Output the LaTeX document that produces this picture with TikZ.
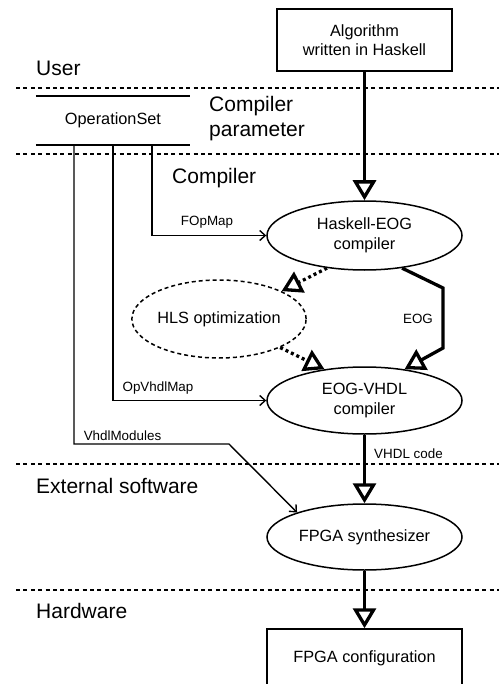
\documentclass[tikz,border=0pt]{standalone}
\usepackage{fontspec}
\setmainfont{Liberation Sans}
\usetikzlibrary{arrows.meta,shapes.geometric}
\newcommand\NodeFont{\fontsize{16.3pt}{19.5pt}\selectfont}
\newcommand\BigFont{\fontsize{21pt}{25pt}\selectfont}
\newcommand\SmallFont{\fontsize{13.4pt}{16pt}\selectfont}
\begin{document}
\begin{tikzpicture}[x=1pt,y=-1pt,
  sepline/.style={line width=1.3pt, dash pattern=on 4pt off 3.4pt},
  boxnode/.style={draw, rectangle, line width=1.5pt, inner sep=0pt, align=center, font=\NodeFont},
  ellnode/.style={draw, ellipse, line width=1.5pt, minimum width=195pt, inner sep=0pt, align=center, font=\NodeFont},
  bigarrow/.style={line width=3.3pt, -{Triangle[open,length=20pt,width=23pt]}},
  dotarrow/.style={bigarrow, dash pattern=on 3pt off 3pt},
  paramarrow/.style={line width=1.4pt, -{Straight Barb[length=5.5pt,width=10pt]}},
  biglabel/.style={anchor=base west, inner sep=0pt, font=\BigFont},
  smalllabel/.style={anchor=base, inner sep=0pt, font=\SmallFont}]
\clip (0,0) rectangle (499,684);
\fill[white] (0,0) rectangle (499,684);

% layer separators
\draw[sepline] (16,88) -- (499,88);
\draw[sepline] (16,154) -- (499,154);
\draw[sepline] (16,464) -- (499,464);
\draw[sepline] (16,590) -- (499,590);

% layer labels
\node[biglabel] (lUser) at (36,76) {User};
\node[biglabel] (lParam1) at (209,112) {Compiler};
\node[biglabel] (lParam2) at (209,137) {parameter};
\node[biglabel] (lComp) at (172,184) {Compiler};
\node[biglabel] (lExt) at (36,493) {External software};
\node[biglabel] (lHw) at (36,618) {Hardware};

% nodes
\node[boxnode, minimum width=175pt, minimum height=62pt] (alg) at (364.5,40) {Algorithm\\written in Haskell};
\node[ellnode, minimum height=69pt] (hask) at (364.5,235.5) {Haskell-EOG\\compiler};
\node[ellnode, draw, dash pattern=on 4pt off 3pt, minimum width=172pt, minimum height=78pt] (hls) at (219,319) {HLS optimization};
\node[ellnode, minimum height=67pt] (vhdl) at (364.5,400.5) {EOG-VHDL\\compiler};
\node[ellnode, minimum height=66pt] (synth) at (364.5,537) {FPGA synthesizer};
\node[boxnode, minimum width=195pt, minimum height=58pt] (cfg) at (364.5,658) {FPGA configuration};

% OperationSet
\node[inner sep=0pt, minimum width=154pt, minimum height=49pt, font=\NodeFont] (opset) at (113,120.5) {OperationSet};
\draw[line width=1.6pt] (opset.north west) -- (opset.north east);
\draw[line width=1.6pt] (opset.south west) -- (opset.south east);
\coordinate (o1) at (74,145);
\coordinate (o2) at (113,145);
\coordinate (o3) at (152,145);

% main flow
\draw[bigarrow] (alg.south) -- (hask.north);
\draw[bigarrow] (vhdl.south) -- (synth.north);
\draw[bigarrow] (synth.south) -- (cfg.north);
\coordinate (eA) at (443,288);
\coordinate (eB) at (443,348);
\draw[bigarrow, line join=miter] (hask.319) -- (eA) -- (eB) -- (vhdl.38.7);
\draw[dotarrow] (hask.221.7) -- (hls.24.4);
\draw[dotarrow] (hls.335) -- (vhdl.142.6);

% parameter connectors
\draw[paramarrow] (o3) |- (hask.west);
\draw[paramarrow] (o2) |- (vhdl.west);
\coordinate (vm) at (229,444);
\draw[paramarrow] (o1) |- (vm) -- (synth.160);

% connector labels
\node[smalllabel] (tF) at (207,226) {FOpMap};
\node[smalllabel] (tO) at (158,391) {OpVhdlMap};
\node[smalllabel] (tV) at (122.5,440) {VhdlModules};
\node[smalllabel] (tE) at (418,323.3) {EOG};
\node[smalllabel] (tC) at (408.5,458) {VHDL code};
\end{tikzpicture}
\end{document}
